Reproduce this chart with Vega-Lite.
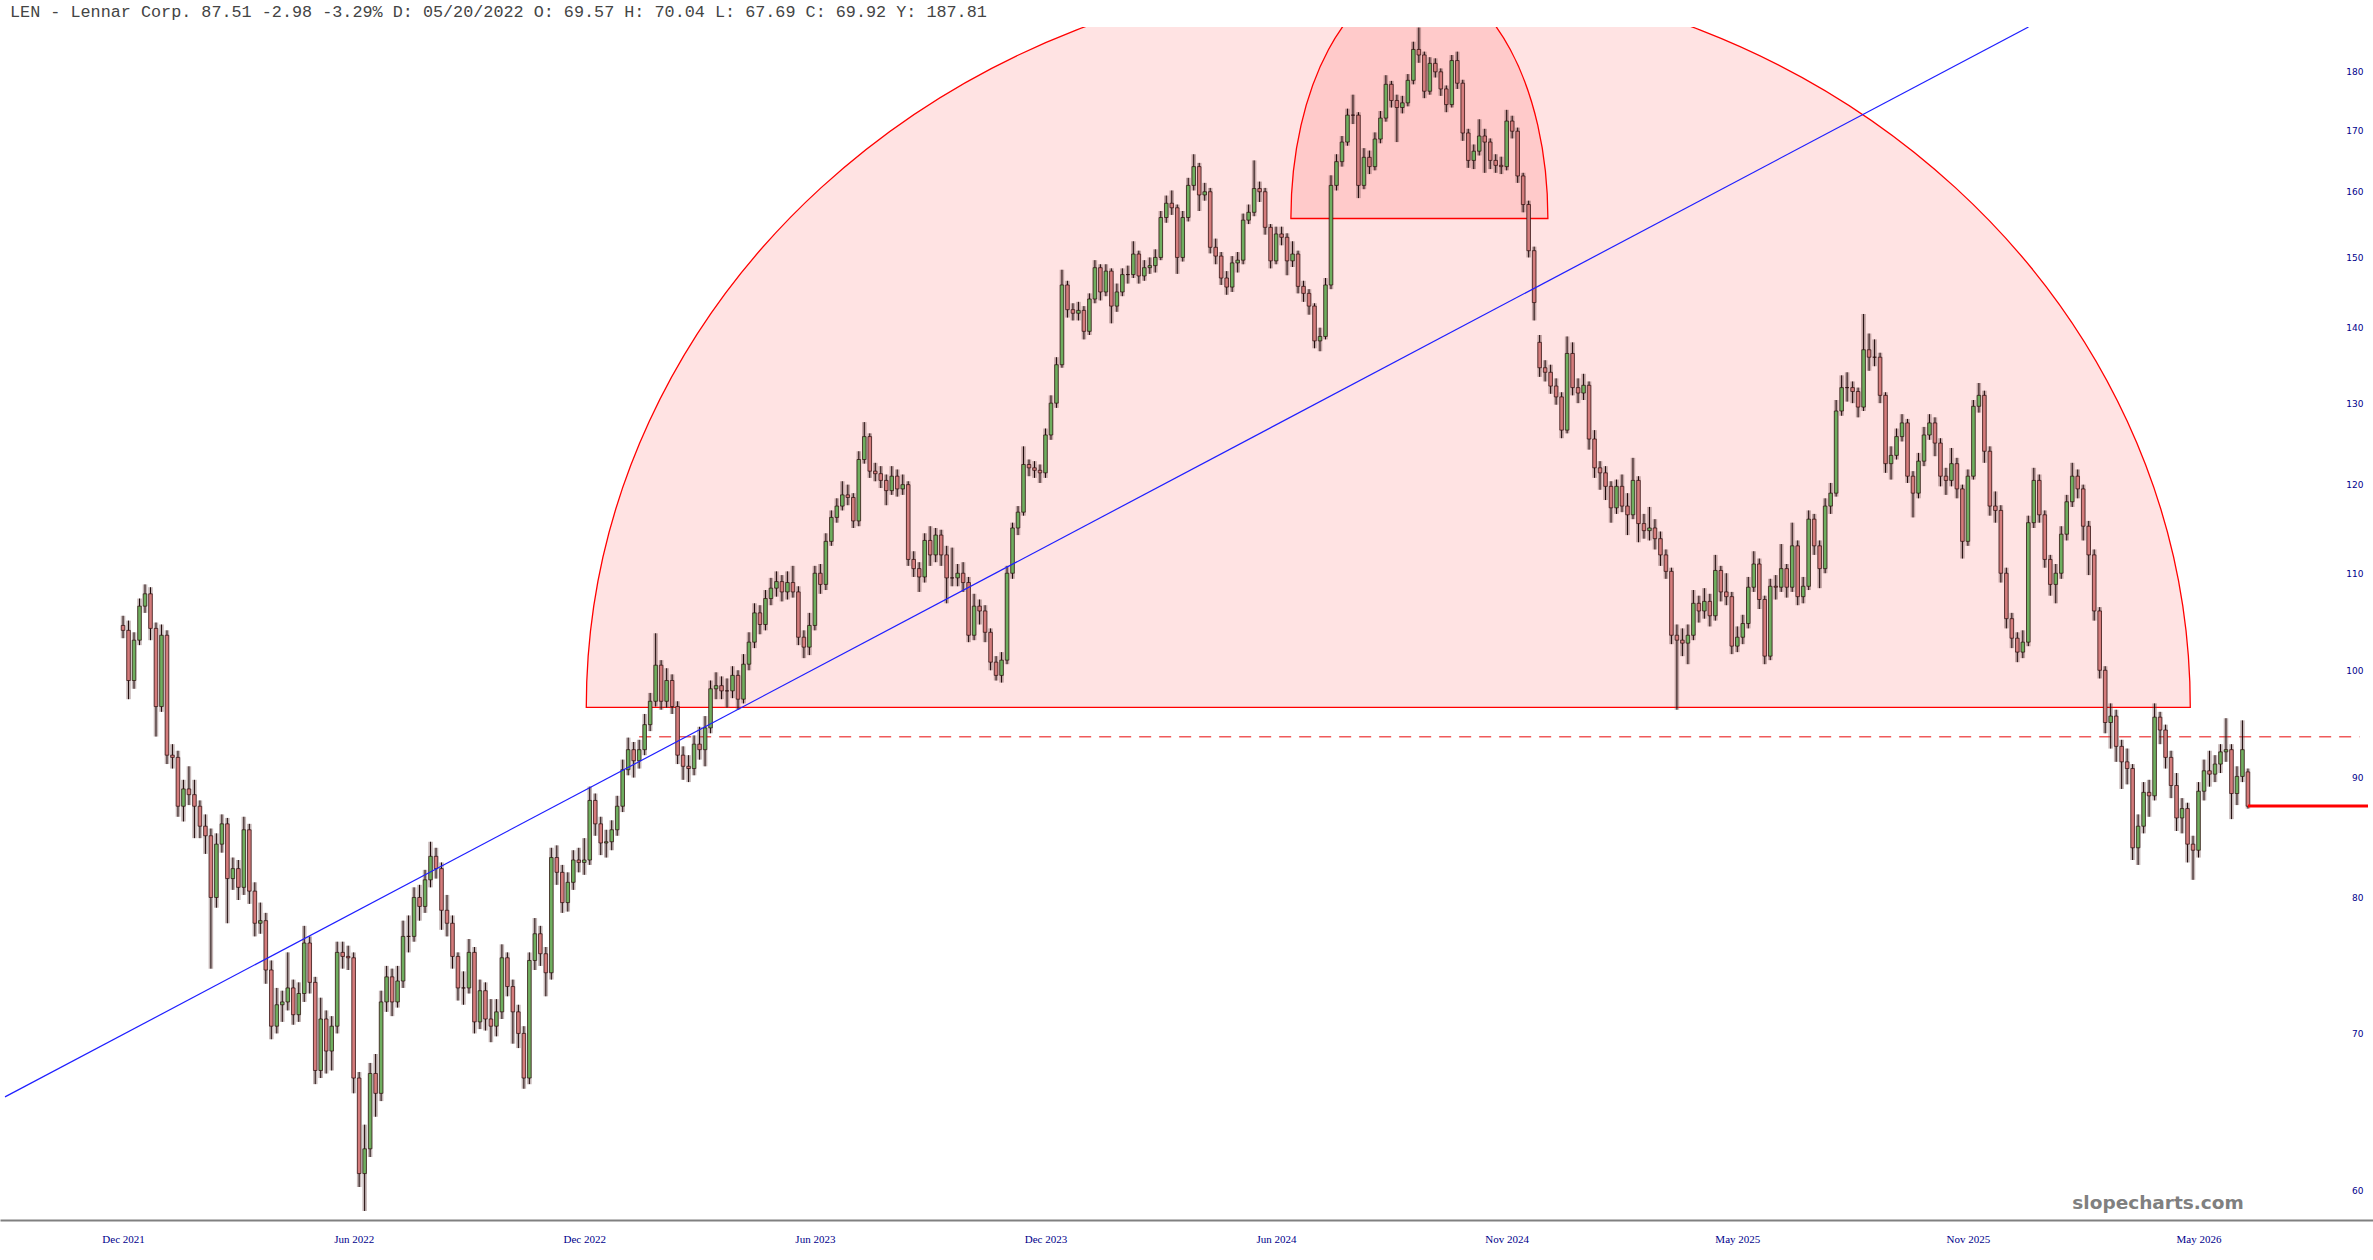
{
  "$schema": "https://vega.github.io/schema/vega-lite/v6.json",
  "width": 2373,
  "height": 1193,
  "autosize": "none",
  "padding": {"left": 0, "top": 27, "right": 0, "bottom": 40},
  "background": "white",
  "title": {
    "text": "LEN - Lennar Corp. 87.51 -2.98 -3.29% D: 05/20/2022 O:  69.57 H:  70.04 L:  67.69 C:  69.92 Y: 187.81",
    "anchor": "start", "frame": "group", "dx": 10, "offset": 4,
    "font": "Liberation Mono", "fontSize": 16.8, "fontWeight": "normal", "color": "#444444"
  },
  "config": {"view": {"stroke": null}},
  "datasets": {
    "px": [
      {"i":0,"o":104.5,"h":105.5,"l":103.2,"c":104.0},
      {"i":3,"o":104.0,"h":105.0,"l":97.2,"c":99.0},
      {"i":6,"o":99.0,"h":103.8,"l":98.2,"c":103.0},
      {"i":9,"o":103.0,"h":107.3,"l":102.5,"c":106.5},
      {"i":12,"o":106.5,"h":108.8,"l":105.8,"c":107.8},
      {"i":15,"o":107.8,"h":108.5,"l":103.0,"c":104.2},
      {"i":18,"o":104.2,"h":104.8,"l":93.7,"c":96.5},
      {"i":21,"o":96.5,"h":104.6,"l":96.0,"c":103.5},
      {"i":24,"o":103.5,"h":104.0,"l":91.2,"c":92.0},
      {"i":27,"o":92.0,"h":93.0,"l":90.8,"c":91.8},
      {"i":30,"o":91.8,"h":92.4,"l":86.6,"c":87.5},
      {"i":33,"o":87.5,"h":89.8,"l":86.2,"c":89.0},
      {"i":36,"o":89.0,"h":91.0,"l":87.6,"c":88.5},
      {"i":39,"o":88.5,"h":89.8,"l":84.8,"c":87.5},
      {"i":42,"o":87.5,"h":88.0,"l":84.8,"c":85.8},
      {"i":45,"o":85.8,"h":86.8,"l":83.5,"c":85.0},
      {"i":48,"o":85.0,"h":85.6,"l":74.6,"c":80.0},
      {"i":51,"o":80.0,"h":85.2,"l":79.2,"c":84.3},
      {"i":54,"o":84.3,"h":86.8,"l":83.6,"c":86.0},
      {"i":57,"o":86.0,"h":86.5,"l":78.0,"c":81.5},
      {"i":60,"o":81.5,"h":83.2,"l":80.6,"c":82.3},
      {"i":63,"o":82.3,"h":83.0,"l":79.8,"c":80.8},
      {"i":66,"o":80.8,"h":86.6,"l":80.2,"c":85.5},
      {"i":69,"o":85.5,"h":86.0,"l":79.5,"c":80.5},
      {"i":72,"o":80.5,"h":81.2,"l":77.0,"c":78.0},
      {"i":75,"o":78.0,"h":79.6,"l":77.2,"c":78.2},
      {"i":78,"o":78.2,"h":78.8,"l":73.5,"c":74.5},
      {"i":81,"o":74.5,"h":75.2,"l":69.6,"c":70.5},
      {"i":84,"o":70.5,"h":73.2,"l":70.0,"c":72.0},
      {"i":87,"o":72.0,"h":73.0,"l":70.8,"c":72.2},
      {"i":90,"o":72.2,"h":75.8,"l":71.6,"c":73.2},
      {"i":93,"o":73.2,"h":73.8,"l":70.6,"c":71.3},
      {"i":96,"o":71.3,"h":73.6,"l":70.8,"c":72.8},
      {"i":99,"o":72.8,"h":77.8,"l":72.2,"c":76.5},
      {"i":102,"o":76.5,"h":77.0,"l":72.8,"c":73.6},
      {"i":105,"o":73.6,"h":74.0,"l":66.6,"c":67.5},
      {"i":108,"o":67.5,"h":72.5,"l":67.0,"c":71.0},
      {"i":111,"o":71.0,"h":71.6,"l":67.3,"c":68.8},
      {"i":114,"o":68.8,"h":71.2,"l":67.5,"c":70.5},
      {"i":117,"o":70.5,"h":76.6,"l":70.0,"c":75.8},
      {"i":120,"o":75.8,"h":76.6,"l":74.6,"c":75.5},
      {"i":123,"o":75.5,"h":76.3,"l":74.5,"c":75.4},
      {"i":126,"o":75.4,"h":75.8,"l":66.0,"c":67.0},
      {"i":129,"o":67.0,"h":67.4,"l":60.2,"c":61.0},
      {"i":132,"o":61.0,"h":64.0,"l":58.8,"c":62.5},
      {"i":135,"o":62.5,"h":68.0,"l":62.0,"c":67.3},
      {"i":138,"o":67.3,"h":68.6,"l":64.5,"c":66.0},
      {"i":141,"o":66.0,"h":73.0,"l":65.5,"c":72.2},
      {"i":144,"o":72.2,"h":74.8,"l":71.5,"c":74.0},
      {"i":147,"o":74.0,"h":74.6,"l":71.2,"c":72.2},
      {"i":150,"o":72.2,"h":74.8,"l":71.8,"c":73.7},
      {"i":153,"o":73.7,"h":78.2,"l":73.2,"c":77.0},
      {"i":156,"o":77.0,"h":78.6,"l":75.8,"c":77.0},
      {"i":159,"o":77.0,"h":80.8,"l":76.6,"c":80.0},
      {"i":162,"o":80.0,"h":81.0,"l":78.2,"c":79.3},
      {"i":165,"o":79.3,"h":82.2,"l":78.8,"c":81.4},
      {"i":168,"o":81.4,"h":84.5,"l":80.8,"c":83.3},
      {"i":171,"o":83.3,"h":84.0,"l":81.5,"c":82.3},
      {"i":174,"o":82.3,"h":82.8,"l":77.5,"c":79.0},
      {"i":177,"o":79.0,"h":80.2,"l":77.0,"c":78.0},
      {"i":180,"o":78.0,"h":78.6,"l":74.6,"c":75.5},
      {"i":183,"o":75.5,"h":75.8,"l":72.3,"c":73.2},
      {"i":186,"o":73.2,"h":74.4,"l":72.0,"c":73.2},
      {"i":189,"o":73.2,"h":76.8,"l":72.8,"c":75.8},
      {"i":192,"o":75.8,"h":76.2,"l":70.0,"c":70.8},
      {"i":195,"o":70.8,"h":73.8,"l":70.3,"c":73.0},
      {"i":198,"o":73.0,"h":73.6,"l":70.2,"c":71.0},
      {"i":201,"o":71.0,"h":72.4,"l":69.4,"c":70.5},
      {"i":204,"o":70.5,"h":72.4,"l":69.8,"c":71.5},
      {"i":207,"o":71.5,"h":76.4,"l":71.0,"c":75.4},
      {"i":210,"o":75.4,"h":75.8,"l":72.6,"c":73.3},
      {"i":213,"o":73.3,"h":73.8,"l":69.3,"c":71.5},
      {"i":216,"o":71.5,"h":72.0,"l":69.0,"c":70.0},
      {"i":219,"o":70.0,"h":70.5,"l":66.3,"c":67.0},
      {"i":222,"o":67.0,"h":75.8,"l":66.6,"c":75.2},
      {"i":225,"o":75.2,"h":78.4,"l":74.5,"c":77.2},
      {"i":228,"o":77.2,"h":77.8,"l":74.8,"c":75.7},
      {"i":231,"o":75.7,"h":76.2,"l":72.6,"c":74.3},
      {"i":234,"o":74.3,"h":84.0,"l":73.8,"c":83.2},
      {"i":237,"o":83.2,"h":84.2,"l":81.0,"c":82.0},
      {"i":240,"o":82.0,"h":82.6,"l":78.8,"c":79.6},
      {"i":243,"o":79.6,"h":82.0,"l":78.9,"c":81.2},
      {"i":246,"o":81.2,"h":83.8,"l":80.6,"c":83.0},
      {"i":249,"o":83.0,"h":84.0,"l":82.0,"c":82.8},
      {"i":252,"o":82.8,"h":84.8,"l":81.8,"c":83.0},
      {"i":255,"o":83.0,"h":89.2,"l":82.6,"c":88.0},
      {"i":258,"o":88.0,"h":88.6,"l":85.0,"c":86.0},
      {"i":261,"o":86.0,"h":86.6,"l":83.4,"c":84.4},
      {"i":264,"o":84.4,"h":85.5,"l":83.2,"c":84.5},
      {"i":267,"o":84.5,"h":86.3,"l":83.8,"c":85.5},
      {"i":270,"o":85.5,"h":88.4,"l":85.0,"c":87.5},
      {"i":273,"o":87.5,"h":91.6,"l":87.0,"c":90.7},
      {"i":276,"o":90.7,"h":93.6,"l":90.2,"c":92.5},
      {"i":279,"o":92.5,"h":93.2,"l":90.0,"c":91.5},
      {"i":282,"o":91.5,"h":93.4,"l":90.8,"c":92.5},
      {"i":285,"o":92.5,"h":95.8,"l":92.0,"c":94.8},
      {"i":288,"o":94.8,"h":97.8,"l":94.2,"c":97.0},
      {"i":291,"o":97.0,"h":103.7,"l":96.5,"c":100.5},
      {"i":294,"o":100.5,"h":101.0,"l":96.2,"c":97.0},
      {"i":297,"o":97.0,"h":100.2,"l":96.4,"c":99.0},
      {"i":300,"o":99.0,"h":99.6,"l":95.8,"c":96.5},
      {"i":303,"o":96.5,"h":97.0,"l":91.2,"c":92.0},
      {"i":306,"o":92.0,"h":92.8,"l":89.8,"c":91.0},
      {"i":309,"o":91.0,"h":92.0,"l":89.6,"c":90.8},
      {"i":312,"o":90.8,"h":93.8,"l":90.2,"c":93.0},
      {"i":315,"o":93.0,"h":94.6,"l":91.6,"c":92.5},
      {"i":318,"o":92.5,"h":95.6,"l":91.0,"c":94.5},
      {"i":321,"o":94.5,"h":99.0,"l":94.0,"c":98.2},
      {"i":324,"o":98.2,"h":99.8,"l":97.2,"c":98.5},
      {"i":327,"o":98.5,"h":99.4,"l":97.2,"c":98.0},
      {"i":330,"o":98.0,"h":99.2,"l":96.4,"c":98.0},
      {"i":333,"o":98.0,"h":100.4,"l":97.3,"c":99.5},
      {"i":336,"o":99.5,"h":100.0,"l":96.2,"c":97.2},
      {"i":339,"o":97.2,"h":101.6,"l":96.8,"c":100.6},
      {"i":342,"o":100.6,"h":103.8,"l":100.0,"c":102.8},
      {"i":345,"o":102.8,"h":106.8,"l":102.2,"c":105.8},
      {"i":348,"o":105.8,"h":106.6,"l":103.6,"c":104.6},
      {"i":351,"o":104.6,"h":108.2,"l":104.0,"c":107.3},
      {"i":354,"o":107.3,"h":109.5,"l":106.6,"c":108.4},
      {"i":357,"o":108.4,"h":110.2,"l":107.5,"c":109.1},
      {"i":360,"o":109.1,"h":109.8,"l":107.0,"c":108.0},
      {"i":363,"o":108.0,"h":110.2,"l":107.2,"c":109.0},
      {"i":366,"o":109.0,"h":110.8,"l":107.4,"c":108.0},
      {"i":369,"o":108.0,"h":108.6,"l":102.5,"c":103.3},
      {"i":372,"o":103.3,"h":104.0,"l":101.2,"c":102.3},
      {"i":375,"o":102.3,"h":105.8,"l":101.5,"c":104.5},
      {"i":378,"o":104.5,"h":110.8,"l":104.0,"c":110.0},
      {"i":381,"o":110.0,"h":111.0,"l":107.8,"c":108.8},
      {"i":384,"o":108.8,"h":114.4,"l":108.2,"c":113.5},
      {"i":387,"o":113.5,"h":117.0,"l":113.0,"c":116.2},
      {"i":390,"o":116.2,"h":118.4,"l":115.6,"c":117.5},
      {"i":393,"o":117.5,"h":120.4,"l":117.0,"c":118.8},
      {"i":396,"o":118.8,"h":120.0,"l":117.6,"c":118.5},
      {"i":399,"o":118.5,"h":119.0,"l":115.0,"c":115.8},
      {"i":402,"o":115.8,"h":124.0,"l":115.2,"c":123.0},
      {"i":405,"o":123.0,"h":127.6,"l":122.5,"c":125.8},
      {"i":408,"o":125.8,"h":126.2,"l":120.8,"c":121.6},
      {"i":411,"o":121.6,"h":122.6,"l":120.4,"c":121.3},
      {"i":414,"o":121.3,"h":122.2,"l":119.6,"c":120.5},
      {"i":417,"o":120.5,"h":121.2,"l":117.6,"c":119.3},
      {"i":420,"o":119.3,"h":122.2,"l":118.8,"c":121.0},
      {"i":423,"o":121.0,"h":121.8,"l":118.6,"c":119.5},
      {"i":426,"o":119.5,"h":121.2,"l":118.8,"c":120.0},
      {"i":429,"o":120.0,"h":120.4,"l":110.8,"c":111.5},
      {"i":432,"o":111.5,"h":112.4,"l":109.6,"c":110.5},
      {"i":435,"o":110.5,"h":111.2,"l":108.0,"c":109.6},
      {"i":438,"o":109.6,"h":114.4,"l":109.0,"c":113.6},
      {"i":441,"o":113.6,"h":115.2,"l":110.8,"c":112.0},
      {"i":444,"o":112.0,"h":115.0,"l":111.2,"c":114.2},
      {"i":447,"o":114.2,"h":114.8,"l":110.8,"c":112.0},
      {"i":450,"o":112.0,"h":113.0,"l":106.8,"c":109.5},
      {"i":453,"o":109.5,"h":112.8,"l":108.6,"c":109.5},
      {"i":456,"o":109.5,"h":111.0,"l":108.6,"c":110.0},
      {"i":459,"o":110.0,"h":111.2,"l":108.0,"c":109.0},
      {"i":462,"o":109.0,"h":109.6,"l":102.8,"c":103.5},
      {"i":465,"o":103.5,"h":107.8,"l":103.0,"c":106.5},
      {"i":468,"o":106.5,"h":107.2,"l":104.6,"c":106.0},
      {"i":471,"o":106.0,"h":106.6,"l":102.8,"c":103.8},
      {"i":474,"o":103.8,"h":104.2,"l":100.0,"c":100.8},
      {"i":477,"o":100.8,"h":101.4,"l":99.0,"c":99.5},
      {"i":480,"o":99.5,"h":101.8,"l":98.8,"c":101.0},
      {"i":483,"o":101.0,"h":110.8,"l":100.6,"c":110.0},
      {"i":486,"o":110.0,"h":115.6,"l":109.4,"c":115.0},
      {"i":489,"o":115.0,"h":117.5,"l":114.2,"c":116.8},
      {"i":492,"o":116.8,"h":124.6,"l":116.4,"c":122.4},
      {"i":495,"o":122.4,"h":123.0,"l":121.0,"c":122.0},
      {"i":498,"o":122.0,"h":122.8,"l":120.8,"c":121.7},
      {"i":501,"o":121.7,"h":122.4,"l":120.2,"c":121.4},
      {"i":504,"o":121.4,"h":126.8,"l":120.8,"c":126.0},
      {"i":507,"o":126.0,"h":131.0,"l":125.4,"c":130.0},
      {"i":510,"o":130.0,"h":136.0,"l":129.4,"c":135.0},
      {"i":513,"o":135.0,"h":148.2,"l":134.6,"c":146.0},
      {"i":516,"o":146.0,"h":146.6,"l":141.4,"c":142.5},
      {"i":519,"o":142.5,"h":143.4,"l":141.0,"c":142.0},
      {"i":522,"o":142.0,"h":143.6,"l":141.0,"c":142.4},
      {"i":525,"o":142.4,"h":143.0,"l":138.4,"c":139.5},
      {"i":528,"o":139.5,"h":144.8,"l":139.0,"c":144.0},
      {"i":531,"o":144.0,"h":149.6,"l":143.4,"c":148.5},
      {"i":534,"o":148.5,"h":149.0,"l":143.8,"c":145.0},
      {"i":537,"o":145.0,"h":149.0,"l":144.4,"c":148.0},
      {"i":540,"o":148.0,"h":148.4,"l":140.6,"c":143.0},
      {"i":543,"o":143.0,"h":146.2,"l":142.2,"c":145.0},
      {"i":546,"o":145.0,"h":148.4,"l":144.4,"c":147.5},
      {"i":549,"o":147.5,"h":148.8,"l":146.2,"c":147.5},
      {"i":552,"o":147.5,"h":152.4,"l":147.0,"c":150.5},
      {"i":555,"o":150.5,"h":151.0,"l":146.2,"c":147.3},
      {"i":558,"o":147.3,"h":149.6,"l":146.6,"c":148.5},
      {"i":561,"o":148.5,"h":150.0,"l":147.6,"c":148.8},
      {"i":564,"o":148.8,"h":151.2,"l":147.8,"c":150.0},
      {"i":567,"o":150.0,"h":157.0,"l":149.6,"c":156.0},
      {"i":570,"o":156.0,"h":159.4,"l":155.2,"c":158.2},
      {"i":573,"o":158.2,"h":160.2,"l":156.4,"c":157.5},
      {"i":576,"o":157.5,"h":158.0,"l":147.6,"c":150.0},
      {"i":579,"o":150.0,"h":157.0,"l":149.4,"c":156.0},
      {"i":582,"o":156.0,"h":162.2,"l":155.4,"c":161.0},
      {"i":585,"o":161.0,"h":166.0,"l":160.2,"c":164.0},
      {"i":588,"o":164.0,"h":164.6,"l":157.0,"c":159.5},
      {"i":591,"o":159.5,"h":161.4,"l":158.6,"c":160.0},
      {"i":594,"o":160.0,"h":160.6,"l":150.6,"c":151.5},
      {"i":597,"o":151.5,"h":152.8,"l":149.0,"c":150.2},
      {"i":600,"o":150.2,"h":150.8,"l":146.0,"c":147.0},
      {"i":603,"o":147.0,"h":148.0,"l":144.6,"c":145.7},
      {"i":606,"o":145.7,"h":150.2,"l":145.0,"c":149.2},
      {"i":609,"o":149.2,"h":150.8,"l":147.8,"c":149.6},
      {"i":612,"o":149.6,"h":156.6,"l":149.0,"c":155.6},
      {"i":615,"o":155.6,"h":158.0,"l":155.0,"c":156.8},
      {"i":618,"o":156.8,"h":165.0,"l":156.2,"c":160.5},
      {"i":621,"o":160.5,"h":161.6,"l":158.4,"c":160.0},
      {"i":624,"o":160.0,"h":160.6,"l":153.4,"c":154.5},
      {"i":627,"o":154.5,"h":155.0,"l":148.4,"c":149.5},
      {"i":630,"o":149.5,"h":154.6,"l":149.0,"c":153.5},
      {"i":633,"o":153.5,"h":154.6,"l":151.8,"c":153.0},
      {"i":636,"o":153.0,"h":153.6,"l":147.4,"c":149.5},
      {"i":639,"o":149.5,"h":152.4,"l":148.6,"c":150.5},
      {"i":642,"o":150.5,"h":151.0,"l":144.8,"c":145.8},
      {"i":645,"o":145.8,"h":146.6,"l":143.6,"c":144.8},
      {"i":648,"o":144.8,"h":145.4,"l":141.8,"c":143.0},
      {"i":651,"o":143.0,"h":143.4,"l":137.2,"c":138.2},
      {"i":654,"o":138.2,"h":140.0,"l":136.8,"c":138.8},
      {"i":657,"o":138.8,"h":147.0,"l":138.4,"c":146.0},
      {"i":660,"o":146.0,"h":162.6,"l":145.4,"c":161.0},
      {"i":663,"o":161.0,"h":166.0,"l":160.2,"c":164.8},
      {"i":666,"o":164.8,"h":169.0,"l":164.0,"c":168.0},
      {"i":669,"o":168.0,"h":173.6,"l":167.4,"c":172.5},
      {"i":672,"o":172.5,"h":176.0,"l":171.0,"c":172.5},
      {"i":675,"o":172.5,"h":173.0,"l":159.0,"c":161.0},
      {"i":678,"o":161.0,"h":167.0,"l":160.4,"c":165.5},
      {"i":681,"o":165.5,"h":166.6,"l":162.8,"c":164.0},
      {"i":684,"o":164.0,"h":169.6,"l":163.4,"c":168.5},
      {"i":687,"o":168.5,"h":173.2,"l":167.8,"c":172.0},
      {"i":690,"o":172.0,"h":179.4,"l":171.4,"c":177.8},
      {"i":693,"o":177.8,"h":178.4,"l":173.8,"c":175.0},
      {"i":696,"o":175.0,"h":176.0,"l":168.0,"c":173.8},
      {"i":699,"o":173.8,"h":175.8,"l":172.8,"c":174.6},
      {"i":702,"o":174.6,"h":179.6,"l":174.0,"c":178.5},
      {"i":705,"o":178.5,"h":185.4,"l":177.8,"c":184.0},
      {"i":708,"o":184.0,"h":188.0,"l":181.6,"c":183.0},
      {"i":711,"o":183.0,"h":183.6,"l":175.4,"c":176.6},
      {"i":714,"o":176.6,"h":182.6,"l":176.0,"c":181.5},
      {"i":717,"o":181.5,"h":182.4,"l":179.0,"c":180.0},
      {"i":720,"o":180.0,"h":180.6,"l":175.8,"c":177.0},
      {"i":723,"o":177.0,"h":177.6,"l":173.0,"c":174.3},
      {"i":726,"o":174.3,"h":183.0,"l":173.8,"c":182.0},
      {"i":729,"o":182.0,"h":183.6,"l":177.0,"c":178.0},
      {"i":732,"o":178.0,"h":178.6,"l":168.2,"c":169.5},
      {"i":735,"o":169.5,"h":170.2,"l":163.8,"c":165.0},
      {"i":738,"o":165.0,"h":167.6,"l":163.6,"c":166.5},
      {"i":741,"o":166.5,"h":171.8,"l":165.8,"c":169.0},
      {"i":744,"o":169.0,"h":170.2,"l":163.0,"c":168.0},
      {"i":747,"o":168.0,"h":168.6,"l":163.6,"c":165.0},
      {"i":750,"o":165.0,"h":166.0,"l":163.0,"c":164.2},
      {"i":753,"o":164.2,"h":165.6,"l":162.8,"c":164.0},
      {"i":756,"o":164.0,"h":173.4,"l":163.4,"c":171.5},
      {"i":759,"o":171.5,"h":172.4,"l":168.6,"c":169.8},
      {"i":762,"o":169.8,"h":170.4,"l":161.4,"c":162.5},
      {"i":765,"o":162.5,"h":163.0,"l":156.8,"c":158.0},
      {"i":768,"o":158.0,"h":158.6,"l":150.0,"c":151.0},
      {"i":771,"o":151.0,"h":151.6,"l":141.0,"c":143.5},
      {"i":774,"o":138.0,"h":139.0,"l":133.4,"c":134.6},
      {"i":777,"o":134.6,"h":135.6,"l":132.8,"c":134.0},
      {"i":780,"o":134.0,"h":135.0,"l":131.2,"c":132.2},
      {"i":783,"o":132.2,"h":133.2,"l":129.8,"c":130.8},
      {"i":786,"o":130.8,"h":131.4,"l":125.6,"c":126.6},
      {"i":789,"o":126.6,"h":138.8,"l":126.2,"c":136.5},
      {"i":792,"o":136.5,"h":138.0,"l":131.0,"c":132.0},
      {"i":795,"o":132.0,"h":133.2,"l":130.0,"c":131.3},
      {"i":798,"o":131.3,"h":133.8,"l":130.4,"c":132.3},
      {"i":801,"o":132.3,"h":132.8,"l":124.2,"c":125.5},
      {"i":804,"o":125.5,"h":126.6,"l":120.8,"c":122.0},
      {"i":807,"o":122.0,"h":122.8,"l":119.4,"c":121.4},
      {"i":810,"o":121.4,"h":122.2,"l":118.2,"c":119.8},
      {"i":813,"o":119.8,"h":120.4,"l":115.6,"c":117.3},
      {"i":816,"o":117.3,"h":120.6,"l":116.6,"c":119.8},
      {"i":819,"o":119.8,"h":121.2,"l":116.8,"c":117.5},
      {"i":822,"o":117.5,"h":119.0,"l":114.2,"c":116.5},
      {"i":825,"o":116.5,"h":123.2,"l":116.0,"c":120.5},
      {"i":828,"o":120.5,"h":121.0,"l":113.4,"c":115.5},
      {"i":831,"o":115.5,"h":116.6,"l":113.8,"c":114.7},
      {"i":834,"o":114.7,"h":117.4,"l":113.6,"c":115.0},
      {"i":837,"o":115.0,"h":116.0,"l":112.6,"c":113.8},
      {"i":840,"o":113.8,"h":114.6,"l":110.8,"c":112.0},
      {"i":843,"o":112.0,"h":112.6,"l":109.4,"c":110.2},
      {"i":846,"o":110.2,"h":110.6,"l":102.6,"c":103.5},
      {"i":849,"o":103.5,"h":104.6,"l":96.2,"c":103.0},
      {"i":852,"o":103.0,"h":104.2,"l":101.4,"c":102.7},
      {"i":855,"o":102.7,"h":104.6,"l":100.6,"c":103.5},
      {"i":858,"o":103.5,"h":108.2,"l":103.0,"c":106.8},
      {"i":861,"o":106.8,"h":107.6,"l":104.8,"c":106.0},
      {"i":864,"o":106.0,"h":108.4,"l":105.2,"c":107.0},
      {"i":867,"o":107.0,"h":107.8,"l":104.4,"c":105.5},
      {"i":870,"o":105.5,"h":112.0,"l":105.0,"c":110.3},
      {"i":873,"o":110.3,"h":110.8,"l":107.0,"c":108.0},
      {"i":876,"o":108.0,"h":110.0,"l":106.6,"c":107.5},
      {"i":879,"o":107.5,"h":108.0,"l":101.6,"c":102.4},
      {"i":882,"o":102.4,"h":104.4,"l":101.8,"c":103.3},
      {"i":885,"o":103.3,"h":105.6,"l":102.6,"c":104.7},
      {"i":888,"o":104.7,"h":109.6,"l":104.2,"c":108.5},
      {"i":891,"o":108.5,"h":112.4,"l":108.0,"c":111.0},
      {"i":894,"o":111.0,"h":111.6,"l":106.2,"c":107.2},
      {"i":897,"o":107.2,"h":107.6,"l":100.6,"c":101.4},
      {"i":900,"o":101.4,"h":109.4,"l":101.0,"c":108.6},
      {"i":903,"o":108.6,"h":109.8,"l":107.2,"c":108.5},
      {"i":906,"o":108.5,"h":113.2,"l":108.0,"c":110.5},
      {"i":909,"o":110.5,"h":111.0,"l":107.4,"c":108.5},
      {"i":912,"o":108.5,"h":115.6,"l":108.0,"c":113.0},
      {"i":915,"o":113.0,"h":113.6,"l":106.6,"c":107.5},
      {"i":918,"o":107.5,"h":109.6,"l":106.8,"c":108.6},
      {"i":921,"o":108.6,"h":117.0,"l":108.2,"c":116.0},
      {"i":924,"o":116.0,"h":116.6,"l":112.0,"c":113.0},
      {"i":927,"o":113.0,"h":113.6,"l":108.4,"c":110.5},
      {"i":930,"o":110.5,"h":118.4,"l":110.0,"c":117.5},
      {"i":933,"o":117.5,"h":120.2,"l":116.6,"c":119.0},
      {"i":936,"o":119.0,"h":130.4,"l":118.6,"c":129.0},
      {"i":939,"o":129.0,"h":133.6,"l":128.4,"c":132.0},
      {"i":942,"o":132.0,"h":134.0,"l":130.2,"c":132.0},
      {"i":945,"o":132.0,"h":132.8,"l":130.0,"c":131.5},
      {"i":948,"o":131.5,"h":132.0,"l":128.2,"c":129.5},
      {"i":951,"o":129.5,"h":141.9,"l":129.0,"c":137.0},
      {"i":954,"o":137.0,"h":139.2,"l":134.2,"c":136.0},
      {"i":957,"o":136.0,"h":138.4,"l":134.8,"c":136.0},
      {"i":960,"o":136.0,"h":136.6,"l":130.0,"c":131.0},
      {"i":963,"o":131.0,"h":131.4,"l":121.4,"c":122.5},
      {"i":966,"o":122.5,"h":124.6,"l":120.6,"c":123.5},
      {"i":969,"o":123.5,"h":126.8,"l":123.0,"c":125.8},
      {"i":972,"o":125.8,"h":128.6,"l":125.2,"c":127.5},
      {"i":975,"o":127.5,"h":128.0,"l":120.2,"c":121.0},
      {"i":978,"o":121.0,"h":121.6,"l":116.2,"c":119.0},
      {"i":981,"o":119.0,"h":123.8,"l":118.4,"c":122.8},
      {"i":984,"o":122.8,"h":127.0,"l":122.2,"c":126.0},
      {"i":987,"o":126.0,"h":128.6,"l":125.4,"c":127.5},
      {"i":990,"o":127.5,"h":128.2,"l":123.4,"c":125.0},
      {"i":993,"o":125.0,"h":125.6,"l":119.8,"c":121.0},
      {"i":996,"o":121.0,"h":122.0,"l":118.8,"c":120.5},
      {"i":999,"o":120.5,"h":124.4,"l":119.8,"c":122.5},
      {"i":1002,"o":122.5,"h":123.2,"l":118.4,"c":119.5},
      {"i":1005,"o":119.5,"h":120.0,"l":111.6,"c":113.5},
      {"i":1008,"o":113.5,"h":121.8,"l":113.0,"c":121.0},
      {"i":1011,"o":121.0,"h":130.4,"l":120.6,"c":129.6},
      {"i":1014,"o":129.6,"h":132.6,"l":128.8,"c":131.0},
      {"i":1017,"o":131.0,"h":131.6,"l":122.6,"c":124.0},
      {"i":1020,"o":124.0,"h":124.6,"l":116.4,"c":117.5},
      {"i":1023,"o":117.5,"h":119.2,"l":115.6,"c":117.0},
      {"i":1026,"o":117.0,"h":117.6,"l":109.0,"c":110.0},
      {"i":1029,"o":110.0,"h":110.6,"l":104.2,"c":105.2},
      {"i":1032,"o":105.2,"h":105.8,"l":102.2,"c":103.2},
      {"i":1035,"o":103.2,"h":103.8,"l":100.8,"c":101.8},
      {"i":1038,"o":101.8,"h":104.0,"l":101.2,"c":102.8},
      {"i":1041,"o":102.8,"h":116.4,"l":102.4,"c":115.6},
      {"i":1044,"o":115.6,"h":122.0,"l":115.0,"c":120.5},
      {"i":1047,"o":120.5,"h":121.2,"l":115.6,"c":116.5},
      {"i":1050,"o":116.5,"h":117.0,"l":110.6,"c":111.5},
      {"i":1053,"o":111.5,"h":112.0,"l":107.6,"c":108.8},
      {"i":1056,"o":108.8,"h":111.0,"l":106.8,"c":110.0},
      {"i":1059,"o":110.0,"h":115.2,"l":109.4,"c":114.3},
      {"i":1062,"o":114.3,"h":118.8,"l":113.6,"c":118.0},
      {"i":1065,"o":118.0,"h":122.6,"l":117.4,"c":121.0},
      {"i":1068,"o":121.0,"h":121.8,"l":118.4,"c":119.5},
      {"i":1071,"o":119.5,"h":120.0,"l":113.6,"c":115.2},
      {"i":1074,"o":115.2,"h":115.8,"l":109.8,"c":112.0},
      {"i":1077,"o":112.0,"h":112.6,"l":105.0,"c":106.0},
      {"i":1080,"o":106.0,"h":106.4,"l":99.2,"c":100.0},
      {"i":1083,"o":100.0,"h":100.4,"l":94.0,"c":95.0},
      {"i":1086,"o":95.0,"h":96.8,"l":92.6,"c":95.6},
      {"i":1089,"o":95.6,"h":96.2,"l":91.4,"c":92.8},
      {"i":1092,"o":92.8,"h":93.4,"l":89.0,"c":91.4},
      {"i":1095,"o":91.4,"h":92.6,"l":89.4,"c":90.8},
      {"i":1098,"o":90.8,"h":91.2,"l":83.0,"c":84.0},
      {"i":1101,"o":84.0,"h":86.8,"l":82.6,"c":85.8},
      {"i":1104,"o":85.8,"h":89.6,"l":85.2,"c":88.7},
      {"i":1107,"o":88.7,"h":89.8,"l":86.6,"c":88.4},
      {"i":1110,"o":88.4,"h":96.8,"l":88.0,"c":95.5},
      {"i":1113,"o":95.5,"h":96.0,"l":93.0,"c":94.3},
      {"i":1116,"o":94.3,"h":94.8,"l":90.8,"c":91.8},
      {"i":1119,"o":91.8,"h":92.4,"l":88.2,"c":89.3},
      {"i":1122,"o":89.3,"h":90.4,"l":85.4,"c":86.5},
      {"i":1125,"o":86.5,"h":88.2,"l":85.2,"c":87.3},
      {"i":1128,"o":87.3,"h":87.8,"l":82.8,"c":84.3},
      {"i":1131,"o":84.3,"h":85.0,"l":81.4,"c":83.8},
      {"i":1134,"o":83.8,"h":89.6,"l":83.2,"c":88.8},
      {"i":1137,"o":88.8,"h":91.6,"l":88.0,"c":90.6},
      {"i":1140,"o":90.6,"h":92.4,"l":89.2,"c":90.3},
      {"i":1143,"o":90.3,"h":92.0,"l":89.6,"c":91.2},
      {"i":1146,"o":91.2,"h":93.0,"l":90.4,"c":92.3},
      {"i":1149,"o":92.3,"h":95.4,"l":91.4,"c":92.5},
      {"i":1152,"o":92.5,"h":93.0,"l":86.4,"c":88.6},
      {"i":1155,"o":88.6,"h":91.0,"l":87.6,"c":90.1},
      {"i":1158,"o":90.1,"h":95.2,"l":89.6,"c":92.5},
      {"i":1161,"o":90.5,"h":90.8,"l":87.3,"c":87.5}
    ]
  },
  "layer": [
    {
      "data": {"values": [{"i": 691.3, "p": 96.42}]},
      "mark": {
        "type": "point", "clip": true, "filled": true, "opacity": 1,
        "shape": "M-1,0C-1,-0.5062,-0.5523,-0.9165,0,-0.9165C0.5523,-0.9165,1,-0.5062,1,0Z",
        "size": 2572816,
        "fill": "#ff0000", "fillOpacity": 0.11, "stroke": "#ff0000", "strokeWidth": 1.3
      },
      "encoding": {
        "x": {"field": "i", "type": "quantitative", "title": null, "scale": {"domain": [-64.5, 1226.6], "nice": false, "zero": false}},
        "y": {"field": "p", "type": "quantitative", "title": null, "scale": {"type": "log", "domain": [58.28, 188.1], "nice": false}}
      }
    },
    {
      "data": {"values": [{"i": 708.3, "p": 155.85}]},
      "mark": {
        "type": "point", "clip": true, "filled": true, "opacity": 1,
        "shape": "M-1,0C-1,-1.0273,-0.5523,-1.86,0,-1.86C0.5523,-1.86,1,-1.0273,1,0Z",
        "size": 66049,
        "fill": "#ff0000", "fillOpacity": 0.11, "stroke": "#ff0000", "strokeWidth": 1.3
      },
      "encoding": {
        "x": {"field": "i", "type": "quantitative", "title": null, "scale": {"domain": [-64.5, 1226.6], "nice": false, "zero": false}},
        "y": {"field": "p", "type": "quantitative", "title": null, "scale": {"type": "log", "domain": [58.28, 188.1], "nice": false}}
      }
    },
    {
      "data": {"values": [{"i": 282, "i2": 1222, "p": 93.67}]},
      "mark": {"type": "rule", "color": "#f05a5a", "strokeWidth": 1.5, "strokeDash": [12, 8]},
      "encoding": {
        "x": {"field": "i", "type": "quantitative", "title": null, "scale": {"domain": [-64.5, 1226.6], "nice": false, "zero": false}},
        "x2": {"field": "i2"},
        "y": {"field": "p", "type": "quantitative", "title": null, "scale": {"type": "log", "domain": [58.28, 188.1], "nice": false}}
      }
    },
    {
      "data": {"name": "px"},
      "mark": {"type": "rule", "color": "#6e4a4a", "opacity": 0.4, "strokeWidth": 4.5},
      "encoding": {
        "x": {"field": "i", "type": "quantitative", "title": null, "scale": {"domain": [-64.5, 1226.6], "nice": false, "zero": false}},
        "y": {"field": "l", "type": "quantitative", "title": null, "scale": {"type": "log", "domain": [58.28, 188.1], "nice": false}},
        "y2": {"field": "h"}
      }
    },
    {
      "data": {"name": "px"},
      "mark": {"type": "rule", "color": "#1e0a0a", "strokeWidth": 1},
      "encoding": {
        "x": {"field": "i", "type": "quantitative", "title": null, "scale": {"domain": [-64.5, 1226.6], "nice": false, "zero": false}},
        "y": {"field": "l", "type": "quantitative", "title": null, "scale": {"type": "log", "domain": [58.28, 188.1], "nice": false}},
        "y2": {"field": "h"}
      }
    },
    {
      "data": {"name": "px"},
      "mark": {"type": "bar", "width": 3.6, "stroke": "#2a0c0c", "strokeWidth": 0.7},
      "encoding": {
        "x": {
          "field": "i", "type": "quantitative", "title": null,
          "scale": {"domain": [-64.5, 1226.6], "nice": false, "zero": false},
          "axis": {
            "title": null, "grid": false, "tickSize": 0,
            "values": [0, 126, 252, 378, 504, 630, 756, 882, 1008, 1134],
            "labelExpr": "datum.value == 0 ? 'Dec 2021' : datum.value == 126 ? 'Jun 2022' : datum.value == 252 ? 'Dec 2022' : datum.value == 378 ? 'Jun 2023' : datum.value == 504 ? 'Dec 2023' : datum.value == 630 ? 'Jun 2024' : datum.value == 756 ? 'Nov 2024' : datum.value == 882 ? 'May 2025' : datum.value == 1008 ? 'Nov 2025' : 'May 2026'",
            "domainColor": "#808080", "domainWidth": 2,
            "labelColor": "#00008b", "labelFont": "Liberation Serif", "labelFontSize": 11, "labelPadding": 13
          }
        },
        "y": {
          "field": "o", "type": "quantitative", "title": null,
          "scale": {"type": "log", "domain": [58.28, 188.1], "nice": false},
          "axis": {
            "title": null, "orient": "right", "grid": false, "tickSize": 0, "domain": false,
            "labelPadding": -10, "labelAlign": "right", "labelBaseline": "middle",
            "values": [60, 70, 80, 90, 100, 110, 120, 130, 140, 150, 160, 170, 180],
            "labelColor": "#00008b", "labelFont": "DejaVu Sans", "labelFontSize": 9
          }
        },
        "y2": {"field": "c"},
        "fill": {"condition": {"test": "datum.c >= datum.o", "value": "#6fae5f"}, "value": "#d47c7c"}
      }
    },
    {
      "data": {"values": [{"i": -64.5, "p": 65.77}, {"i": 1041.1, "p": 188.1}]},
      "mark": {"type": "line", "color": "#1f1fff", "strokeWidth": 1.2, "clip": true},
      "encoding": {
        "x": {"field": "i", "type": "quantitative", "title": null, "scale": {"domain": [-64.5, 1226.6], "nice": false, "zero": false}},
        "y": {"field": "p", "type": "quantitative", "title": null, "scale": {"type": "log", "domain": [58.28, 188.1], "nice": false}}
      }
    },
    {
      "data": {"values": [{"i": 1161, "i2": 1226.6, "p": 87.51}]},
      "mark": {"type": "rule", "color": "#ff0000", "strokeWidth": 3},
      "encoding": {
        "x": {"field": "i", "type": "quantitative", "title": null, "scale": {"domain": [-64.5, 1226.6], "nice": false, "zero": false}},
        "x2": {"field": "i2"},
        "y": {"field": "p", "type": "quantitative", "title": null, "scale": {"type": "log", "domain": [58.28, 188.1], "nice": false}}
      }
    },
    {
      "data": {"values": [{"t": "slopecharts.com", "i": 1111.9, "p": 59.27}]},
      "mark": {"type": "text", "font": "DejaVu Sans", "fontSize": 18.5, "fontWeight": "bold", "color": "#808080"},
      "encoding": {
        "x": {"field": "i", "type": "quantitative", "title": null, "scale": {"domain": [-64.5, 1226.6], "nice": false, "zero": false}},
        "y": {"field": "p", "type": "quantitative", "title": null, "scale": {"type": "log", "domain": [58.28, 188.1], "nice": false}},
        "text": {"field": "t", "type": "nominal"}
      }
    }
  ]
}
